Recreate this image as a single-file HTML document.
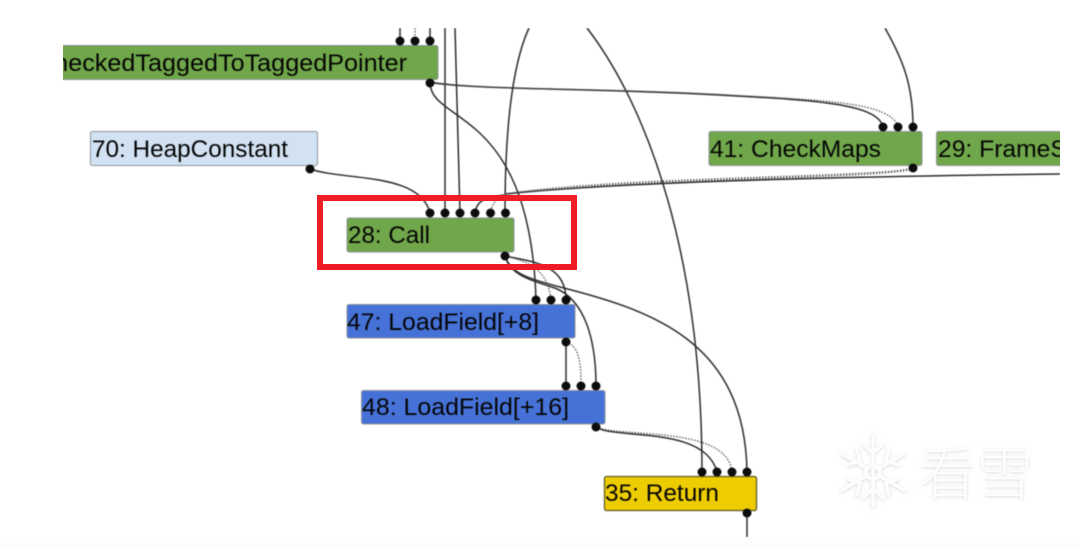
<!DOCTYPE html>
<html>
<head>
<meta charset="utf-8">
<style>
html,body{margin:0;padding:0;background:#fff;width:1080px;height:548px;overflow:hidden}
svg{display:block}
.b{filter:blur(.55px)}
text.l{font-family:"Liberation Sans",sans-serif;font-size:24.5px;fill:#050505}
.n{stroke:#8d9299;stroke-width:1}
.e{fill:none;stroke:#2c2c2c;stroke-width:1.5}
.d{fill:none;stroke:#555;stroke-width:1.3;stroke-dasharray:1.5 1.5}
.p{fill:#0c0c0c}
</style>
</head>
<body>
<svg width="1080" height="548" viewBox="0 0 1080 548" xmlns="http://www.w3.org/2000/svg">
<defs>
<clipPath id="c"><rect x="63" y="28" width="997" height="510"/></clipPath>
<filter id="s" x="-10%" y="-10%" width="120%" height="120%"><feDropShadow dx="0" dy="1" stdDeviation="1.500" flood-color="#bbb" flood-opacity=".55"/></filter>
</defs>
<rect width="1080" height="548" fill="#fff"/>
<rect x="0" y="538" width="1080" height="10" fill="#fdfdfd"/>
<g filter="url(#s)">
<g stroke="#fdfdfd" fill="none" stroke-width="3.500" stroke-linecap="round">
<path d="M873 435V506M842 454L868 469M878 475L904 490M842 490L868 475M878 469L904 454"/>
<path d="M863 444L873 453L883 444M863 498L873 489L883 498M848 465L860 461L857 449M848 479L860 483L857 495M898 465L886 461L889 449M898 479L886 483L889 495"/>
<path d="M873 465L880 469V476L873 480L866 476V469Z"/>
</g>
<text x="919" y="494" style="font-family:'Noto Sans CJK SC',sans-serif;font-size:57px;font-weight:300;fill:#fdfdfd">看雪</text>
</g>

<g clip-path="url(#c)" class="b">
<!-- edges -->
<path class="e" d="M400 28V41M430 28V41M445 28V213M455 28L460 213"/>
<path class="d" d="M415 28V41"/>
<path class="e" d="M529 28C512 65 505 130 505 213"/>
<path class="e" d="M587 28C650 110 702 260 702 472"/>
<path class="e" d="M885 28C903 60 913 85 913 127"/>
<path class="e" d="M430 82C470 90 600 88 720 95C810 100 878 103 883 127"/>
<path class="d" d="M430 83C480 90 610 88 730 95C820 100 892 102 898 127"/>
<path class="e" d="M430 82C430 125 530 105 536 300"/>
<path class="e" d="M310 169C345 181 420 172 430 213"/>
<path class="e" d="M1060 174C900 176 640 180 505 194"/>
<path class="d" d="M913 168C880 178 620 176 505 194"/>
<path class="d" d="M913 169C880 179 620 178 504 195"/>
<path class="e" d="M505 195C490 197 477 198 475 213"/>
<path class="d" d="M505 195C498 198 492 202 490.500 213"/>
<path class="e" d="M505 256C535 262 566 265 566 300"/>
<path class="d" d="M505 256C530 262 548 270 551 300"/>
<path class="e" d="M505 256C510 275 530 280 555 288C585 300 596 340 596 386"/>
<path class="e" d="M505 256C510 272 525 278 560 287C650 310 745 340 747 472"/>
<path class="e" d="M566 342V386"/>
<path class="d" d="M566 342C580 346 581 365 581 386"/>
<path class="e" d="M596 427C615 440 705 425 717 472"/>
<path class="d" d="M596 427C620 438 728 425 732 472"/>
<path class="e" d="M747 513V537"/>
<!-- nodes -->
<rect class="n" x="30" y="45.500" width="408" height="34" rx="2" fill="#70a74a"/>
<text class="l" x="36" y="71" textLength="371" lengthAdjust="spacingAndGlyphs">CheckedTaggedToTaggedPointer</text>
<rect class="n" x="90.500" y="131.500" width="227" height="34" rx="2" fill="#d2e2f3"/>
<text class="l" x="92" y="157" textLength="196" lengthAdjust="spacingAndGlyphs">70: HeapConstant</text>
<rect class="n" x="347" y="218" width="167" height="34" rx="2" fill="#70a74a"/>
<text class="l" x="348" y="243" textLength="82" lengthAdjust="spacingAndGlyphs">28: Call</text>
<rect class="n" x="347" y="304.500" width="228" height="33.500" rx="2" fill="#4672d8"/>
<text class="l" x="347" y="330" textLength="192" lengthAdjust="spacingAndGlyphs">47: LoadField[+8]</text>
<rect class="n" x="361.500" y="390.500" width="243.500" height="33.500" rx="2" fill="#4672d8"/>
<text class="l" x="362" y="415" textLength="207" lengthAdjust="spacingAndGlyphs">48: LoadField[+16]</text>
<rect x="604.500" y="476.500" width="152" height="34" rx="2" fill="#eecd00" stroke="#5f5a24" stroke-width="1.300"/>
<text class="l" x="605" y="501" textLength="114" lengthAdjust="spacingAndGlyphs">35: Return</text>
<rect class="n" x="709" y="131.500" width="213" height="34" rx="2" fill="#70a74a"/>
<text class="l" x="710" y="157" textLength="171" lengthAdjust="spacingAndGlyphs">41: CheckMaps</text>
<rect class="n" x="936.500" y="131.500" width="140" height="34" rx="2" fill="#70a74a"/>
<text class="l" x="938" y="157" textLength="170" lengthAdjust="spacingAndGlyphs">29: FrameState</text>
<!-- ports -->
<g class="p">
<circle cx="400" cy="41" r="4.500"/><circle cx="415" cy="41" r="4.500"/><circle cx="430" cy="41" r="4.500"/>
<circle cx="430" cy="83" r="4.500"/>
<circle cx="310" cy="169" r="4.500"/>
<circle cx="430" cy="213" r="4.500"/><circle cx="445" cy="213" r="4.500"/><circle cx="460" cy="213" r="4.500"/><circle cx="475" cy="213" r="4.500"/><circle cx="490.500" cy="213" r="4.500"/><circle cx="505.500" cy="213" r="4.500"/>
<circle cx="505" cy="256" r="4.500"/>
<circle cx="536" cy="300" r="4.500"/><circle cx="551" cy="300" r="4.500"/><circle cx="566" cy="300" r="4.500"/>
<circle cx="566" cy="342" r="4.500"/>
<circle cx="566" cy="386" r="4.500"/><circle cx="581" cy="386" r="4.500"/><circle cx="596" cy="386" r="4.500"/>
<circle cx="596" cy="427" r="4.500"/>
<circle cx="702" cy="472" r="4.500"/><circle cx="717" cy="472" r="4.500"/><circle cx="732" cy="472" r="4.500"/><circle cx="747" cy="472" r="4.500"/>
<circle cx="747" cy="513" r="4.500"/>
<circle cx="883" cy="127" r="4.500"/><circle cx="898" cy="127" r="4.500"/><circle cx="913" cy="127" r="4.500"/>
<circle cx="913" cy="168" r="4.500"/>
</g>
</g>
<rect x="320" y="198" width="254" height="69" fill="none" stroke="#ee1c25" stroke-width="6"/>
</svg>
</body>
</html>
